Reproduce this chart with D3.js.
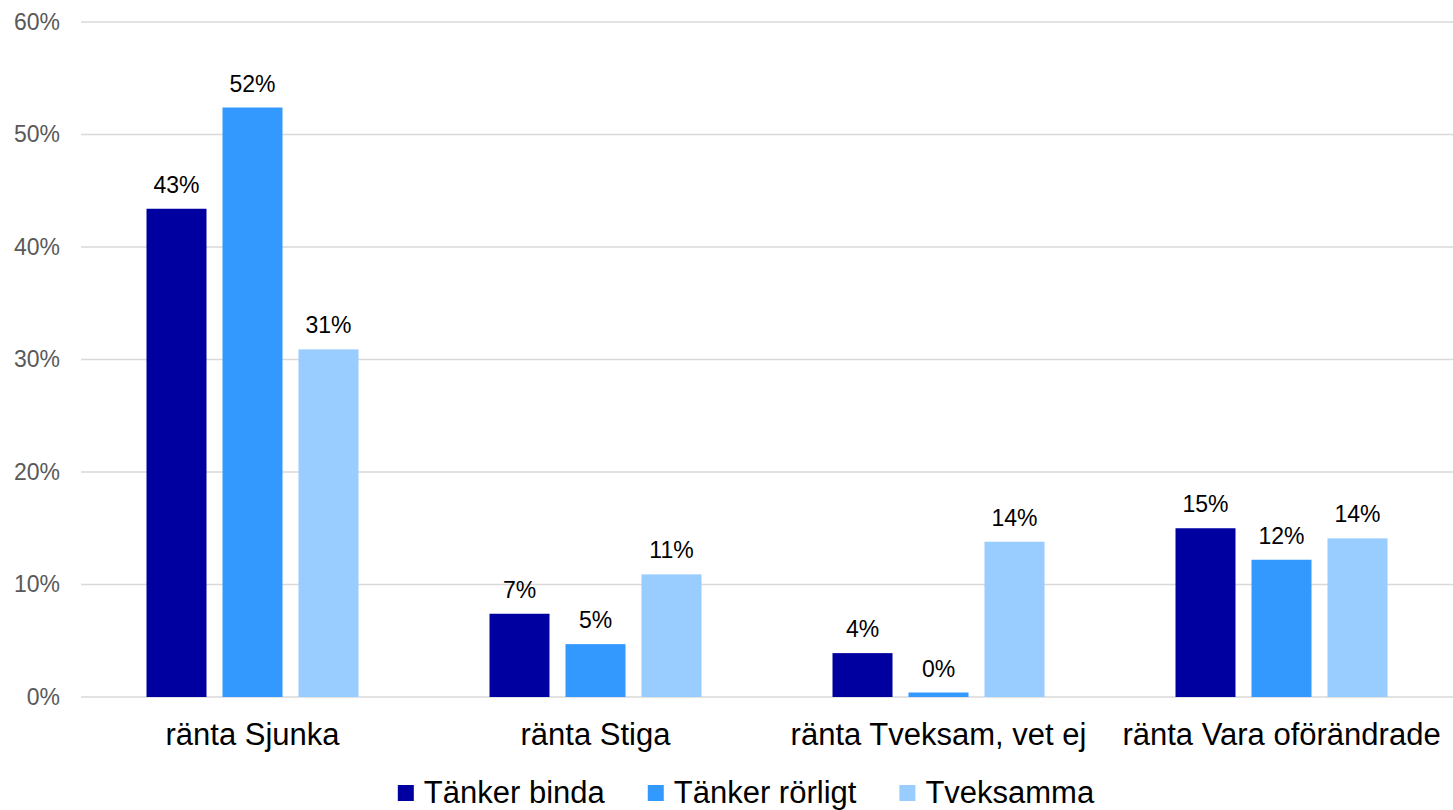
<!DOCTYPE html>
<html>
<head>
<meta charset="utf-8">
<script src="https://cdn.jsdelivr.net/npm/d3@7"></script>
<style>
  html, body { margin: 0; padding: 0; background: #fff; }
  svg { display: block; font-family: "Liberation Sans", Arial, sans-serif; }
</style>
</head>
<body>
<div id="chart"></div>
<script>
"use strict";

const categories = ["ränta Sjunka", "ränta Stiga", "ränta Tveksam, vet ej", "ränta Vara oförändrade"];
const seriesNames = ["Tänker binda", "Tänker rörligt", "Tveksamma"];
const tankerBinda = [43.4, 7.4, 3.9, 15.0];
const tankerRorligt = [52.4, 4.7, 0.4, 12.2];
const tveksamma = [30.9, 10.9, 13.8, 14.1];
const yTicks = [0, 10, 20, 30, 40, 50, 60];

const seriesValues = [tankerBinda, tankerRorligt, tveksamma];
const colors = ["#0000A0", "#3399FF", "#99CCFF"];

const width = 1453;
const height = 810;
const margin = { top: 22, right: 0, bottom: 113, left: 81 };
const innerWidth = width - margin.left - margin.right;
const innerHeight = height - margin.top - margin.bottom;

const svg = d3.select("#chart")
  .append("svg")
  .attr("width", width)
  .attr("height", height)
  .attr("viewBox", `0 0 ${width} ${height}`);

const g = svg.append("g").attr("transform", `translate(${margin.left},${margin.top})`);

const x0 = d3.scaleBand().domain(categories).range([0, innerWidth]).padding(0);
const x1 = d3.scaleBand().domain(seriesNames).range([-106, 106]).paddingInner(16 / 76).paddingOuter(0);
const y = d3.scaleLinear().domain([0, 60]).range([innerHeight, 0]);

// gridlines
g.selectAll("line.grid")
  .data(yTicks)
  .join("line")
  .attr("class", "grid")
  .attr("x1", 0)
  .attr("x2", innerWidth)
  .attr("y1", (v) => y(v))
  .attr("y2", (v) => y(v))
  .attr("stroke", "#D9D9D9")
  .attr("stroke-width", 1.5);

// y axis labels
g.append("g")
  .call(d3.axisLeft(y).tickValues(yTicks).tickSize(0).tickPadding(21).tickFormat((v) => `${v}%`))
  .call((axis) => axis.select(".domain").remove())
  .call((axis) => axis.selectAll("text")
    .attr("fill", "#595959")
    .attr("font-size", 23)
    .attr("font-family", "Liberation Sans, Arial, sans-serif"));

// bars
const groups = g.selectAll("g.cat")
  .data(categories)
  .join("g")
  .attr("class", "cat")
  .attr("transform", (c) => `translate(${x0(c) + x0.bandwidth() / 2},0)`);

const barData = (c, ci) => seriesNames.map((s, si) => ({ series: s, si, value: seriesValues[si][ci] }));

groups.each(function (c, ci) {
  const grp = d3.select(this);
  const rows = barData(c, ci);

  grp.selectAll("rect")
    .data(rows)
    .join("rect")
    .attr("x", (d) => x1(d.series))
    .attr("y", (d) => y(d.value))
    .attr("width", x1.bandwidth())
    .attr("height", (d) => innerHeight - y(d.value))
    .attr("fill", (d) => colors[d.si]);

  grp.selectAll("text.val")
    .data(rows)
    .join("text")
    .attr("class", "val")
    .attr("x", (d) => x1(d.series) + x1.bandwidth() / 2)
    .attr("y", (d) => y(d.value) - 16)
    .attr("text-anchor", "middle")
    .attr("font-size", 23)
    .attr("fill", "#000")
    .text((d) => `${Math.round(d.value)}%`);
});

// category axis
g.append("g")
  .attr("transform", `translate(0,${innerHeight})`)
  .call(d3.axisBottom(x0).tickSize(0).tickPadding(0))
  .call((axis) => axis.select(".domain").remove())
  .call((axis) => axis.selectAll("text")
    .attr("dy", null)
    .attr("y", 48)
    .attr("fill", "#000")
    .attr("font-size", 31)
    .attr("font-family", "Liberation Sans, Arial, sans-serif"));

// legend
const legend = svg.append("g");
let cursor = 0;
seriesNames.forEach((name, i) => {
  const item = legend.append("g").attr("transform", `translate(${cursor},0)`);
  item.append("rect")
    .attr("x", 0)
    .attr("y", -18)
    .attr("width", 16)
    .attr("height", 16)
    .attr("fill", colors[i]);
  const t = item.append("text")
    .attr("x", 26)
    .attr("y", 0)
    .attr("font-size", 31)
    .attr("fill", "#000")
    .text(name);
  cursor += 26 + t.node().getComputedTextLength() + 43;
});
const legendWidth = cursor - 43;
legend.attr("transform", `translate(${746 - legendWidth / 2},803)`);
</script>
</body>
</html>
